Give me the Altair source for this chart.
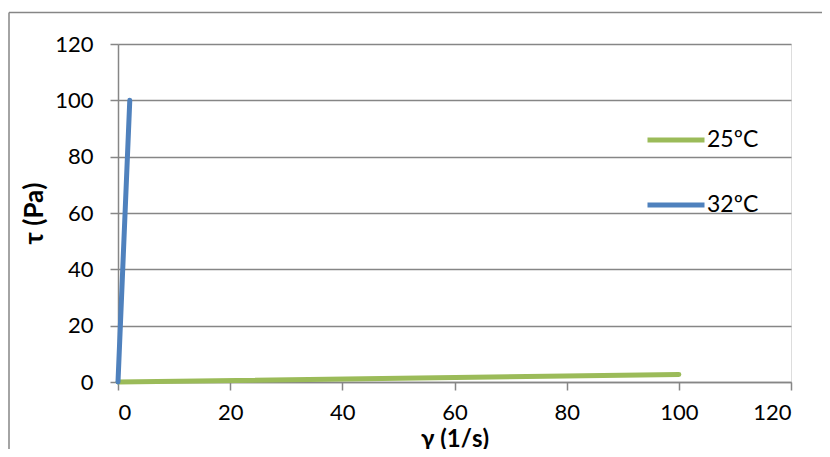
import altair as alt
import pandas as pd

series_25_x = [0, 100]
series_25_y = [0, 2.7]
series_32_x = [0, 2.1]
series_32_y = [0, 100]
series_names = ["25ºC", "32ºC"]
series_colors = ["#9BBB59", "#4F81BD"]
x_ticks = [0, 20, 40, 60, 80, 100, 120]
y_ticks = [0, 20, 40, 60, 80, 100, 120]

rows = []
for i, (x, y) in enumerate(zip(series_25_x, series_25_y)):
    rows.append({"series": series_names[0], "x": x, "y": y, "o": i})
for i, (x, y) in enumerate(zip(series_32_x, series_32_y)):
    rows.append({"series": series_names[1], "x": x, "y": y, "o": i})
df = pd.DataFrame(rows)

FONT = "Lato"
GRAY = "#868686"

lines = alt.Chart(df).mark_line(strokeWidth=5, strokeCap="round").encode(
    x=alt.X("x:Q", scale=alt.Scale(domain=[0, 120], nice=False),
            axis=alt.Axis(values=x_ticks, title="γ (1/s)", grid=False,
                          domainColor=GRAY, domainWidth=1.5, tickColor=GRAY,
                          tickWidth=1.5, tickSize=8, labelPadding=12,
                          labelFontSize=22, labelColor="#000000",
                          labelFontWeight="normal",
                          titleFontSize=24, titleFontWeight="bold",
                          titleY=64, titleBaseline="alphabetic",
                          titleColor="#000000")),
    y=alt.Y("y:Q", scale=alt.Scale(domain=[0, 120], nice=False),
            axis=alt.Axis(values=y_ticks, title="τ (Pa)", grid=True,
                          gridColor=GRAY, gridWidth=1.5,
                          domainColor=GRAY, domainWidth=1.5, tickColor=GRAY,
                          tickWidth=1.5, tickSize=8, labelPadding=17,
                          labelFontSize=22, labelColor="#000000",
                          titleFontSize=26, titleFontWeight="bold",
                          titlePadding=7, titleColor="#000000")),
    color=alt.Color("series:N",
                    scale=alt.Scale(domain=series_names, range=series_colors),
                    legend=alt.Legend(title=None, orient="none",
                                      legendX=527, legendY=65,
                                      symbolType="stroke", symbolSize=3249,
                                      symbolStrokeWidth=5, labelFontSize=23,
                                      labelOffset=0, rowPadding=22,
                                      labelColor="#000000")),
    order="o:Q",
)

one = pd.DataFrame({"a": [0]})
frame_top = alt.Chart(one).mark_rule(stroke=GRAY, strokeWidth=1.5).encode(
    x=alt.value(-109), x2=alt.value(730), y=alt.value(-31.5),
)
frame_left = alt.Chart(one).mark_rule(stroke=GRAY, strokeWidth=1.5).encode(
    x=alt.value(-109), y=alt.value(-31.5), y2=alt.value(460),
)

chart = alt.layer(frame_top, frame_left, lines).properties(
    width=673, height=338,
    autosize=alt.AutoSizeParams(type="none"),
    padding={"left": 110, "top": 36, "right": 31, "bottom": 67},
).configure_view(stroke=None).configure(font=FONT)

chart.save("out.html", embed_options={"renderer": "svg", "actions": False})
